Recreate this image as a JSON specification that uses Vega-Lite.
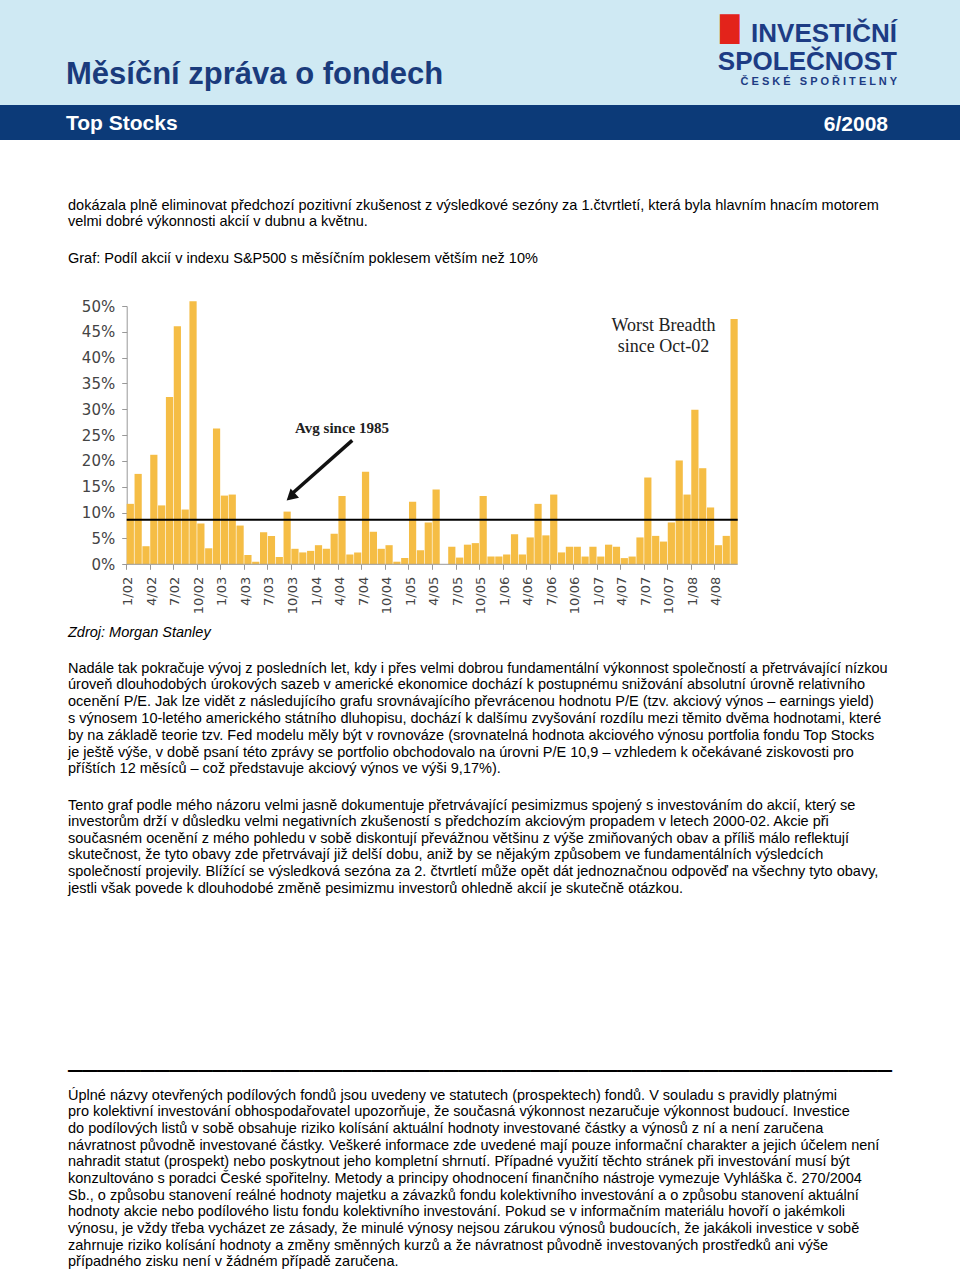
{
  "$schema": "https://vega.github.io/schema/vega-lite/v6.json",
  "padding": 0,
  "background": "white",
  "config": {"view": {"stroke": null}, "font": "Liberation Sans", "axisY": {"labelOverlap": false, "tickCount": 11}},
  "datasets": {
    "breadth": [
      {"month": "1/02", "pct": 11.7}, {"month": "2/02", "pct": 17.5}, {"month": "3/02", "pct": 3.5}, {"month": "4/02", "pct": 21.2},
      {"month": "5/02", "pct": 11.4}, {"month": "6/02", "pct": 32.4}, {"month": "7/02", "pct": 46.1}, {"month": "8/02", "pct": 10.6},
      {"month": "9/02", "pct": 50.9}, {"month": "10/02", "pct": 7.9}, {"month": "11/02", "pct": 3.1}, {"month": "12/02", "pct": 26.3},
      {"month": "1/03", "pct": 13.3}, {"month": "2/03", "pct": 13.5}, {"month": "3/03", "pct": 7.5}, {"month": "4/03", "pct": 1.8},
      {"month": "5/03", "pct": 0.5}, {"month": "6/03", "pct": 6.2}, {"month": "7/03", "pct": 5.5}, {"month": "8/03", "pct": 1.4},
      {"month": "9/03", "pct": 10.2}, {"month": "10/03", "pct": 3.0}, {"month": "11/03", "pct": 2.3}, {"month": "12/03", "pct": 2.6},
      {"month": "1/04", "pct": 3.7}, {"month": "2/04", "pct": 3.0}, {"month": "3/04", "pct": 5.9}, {"month": "4/04", "pct": 13.2},
      {"month": "5/04", "pct": 1.9}, {"month": "6/04", "pct": 2.3}, {"month": "7/04", "pct": 17.9}, {"month": "8/04", "pct": 6.3},
      {"month": "9/04", "pct": 3.0}, {"month": "10/04", "pct": 3.7}, {"month": "11/04", "pct": 0.5}, {"month": "12/04", "pct": 1.2},
      {"month": "1/05", "pct": 12.1}, {"month": "2/05", "pct": 2.7}, {"month": "3/05", "pct": 8.1}, {"month": "4/05", "pct": 14.5},
      {"month": "5/05", "pct": 0.0}, {"month": "6/05", "pct": 3.4}, {"month": "7/05", "pct": 1.3}, {"month": "8/05", "pct": 3.8},
      {"month": "9/05", "pct": 4.1}, {"month": "10/05", "pct": 13.2}, {"month": "11/05", "pct": 1.5}, {"month": "12/05", "pct": 1.5},
      {"month": "1/06", "pct": 1.9}, {"month": "2/06", "pct": 5.8}, {"month": "3/06", "pct": 1.9}, {"month": "4/06", "pct": 5.2},
      {"month": "5/06", "pct": 11.7}, {"month": "6/06", "pct": 5.6}, {"month": "7/06", "pct": 13.5}, {"month": "8/06", "pct": 2.3},
      {"month": "9/06", "pct": 3.4}, {"month": "10/06", "pct": 3.4}, {"month": "11/06", "pct": 1.5}, {"month": "12/06", "pct": 3.4},
      {"month": "1/07", "pct": 1.5}, {"month": "2/07", "pct": 3.8}, {"month": "3/07", "pct": 3.4}, {"month": "4/07", "pct": 1.2},
      {"month": "5/07", "pct": 1.5}, {"month": "6/07", "pct": 5.2}, {"month": "7/07", "pct": 16.8}, {"month": "8/07", "pct": 5.5},
      {"month": "9/07", "pct": 4.4}, {"month": "10/07", "pct": 8.1}, {"month": "11/07", "pct": 20.1}, {"month": "12/07", "pct": 13.5},
      {"month": "1/08", "pct": 29.9}, {"month": "2/08", "pct": 18.6}, {"month": "3/08", "pct": 11.0}, {"month": "4/08", "pct": 3.7},
      {"month": "5/08", "pct": 5.5}, {"month": "6/08", "pct": 47.5}
    ]
  },
  "vconcat": [
    {
      "width": 960, "height": 105,
      "view": {"fill": "#cfe9f3", "stroke": null},
      "data": {"values": []}, "mark": "point",
      "title": {"text": "Měsíční zpráva o fondech", "orient": "bottom", "anchor": "start", "frame": "group", "dx": 66, "offset": -45, "baseline": "top",
        "font": "Liberation Sans", "fontSize": 31, "fontWeight": "bold", "color": "#1a3b7c"}
    },
    {
      "width": 960, "height": 35,
      "view": {"fill": "#0c3a78", "stroke": null},
      "data": {"values": []}, "mark": "point",
      "title": {"text": "Top Stocks", "orient": "bottom", "anchor": "start", "frame": "group", "dx": 66, "offset": -27, "baseline": "top",
        "font": "Liberation Sans", "fontSize": 21, "fontWeight": "bold", "color": "#ffffff"}
    },
    {
      "width": 960, "height": 165.7,
      "data": {"values": []}, "mark": "point",
      "title": {"text": ["dokázala plně eliminovat předchozí pozitivní zkušenost z výsledkové sezóny za 1.čtvrtletí, která byla hlavním hnacím motorem", "velmi dobré výkonnosti akcií v dubnu a květnu."],
        "orient": "bottom", "anchor": "start", "frame": "group", "dx": 68, "offset": -107.2, "baseline": "top",
        "font": "Liberation Sans", "fontSize": 14.5, "fontWeight": "normal", "color": "#000000", "lineHeight": 16.8}
    },
    {
      "width": 737.7, "height": 258.3,
      "data": {"name": "breadth"},
      "layer": [
        {
          "mark": {"type": "bar", "color": "#f5bd45"},
          "encoding": {
            "x": {"field": "month", "type": "nominal", "sort": null,
              "scale": {"domain": ["1/02","2/02","3/02","4/02","5/02","6/02","7/02","8/02","9/02","10/02","11/02","12/02",
                "1/03","2/03","3/03","4/03","5/03","6/03","7/03","8/03","9/03","10/03","11/03","12/03",
                "1/04","2/04","3/04","4/04","5/04","6/04","7/04","8/04","9/04","10/04","11/04","12/04",
                "1/05","2/05","3/05","4/05","5/05","6/05","7/05","8/05","9/05","10/05","11/05","12/05",
                "1/06","2/06","3/06","4/06","5/06","6/06","7/06","8/06","9/06","10/06","11/06","12/06",
                "1/07","2/07","3/07","4/07","5/07","6/07","7/07","8/07","9/07","10/07","11/07","12/07",
                "1/08","2/08","3/08","4/08","5/08","6/08"],
                "range": [126.7, 737.7], "paddingInner": 0.08, "paddingOuter": 0},
              "axis": {"values": ["1/02","4/02","7/02","10/02","1/03","4/03","7/03","10/03","1/04","4/04","7/04","10/04","1/05","4/05","7/05","10/05","1/06","4/06","7/06","10/06","1/07","4/07","7/07","10/07","1/08","4/08"],
                "bandPosition": 0, "labelAngle": -90, "domain": false, "tickColor": "#999999", "tickSize": 5, "labelOverlap": false,
                "labelFont": "DejaVu Sans", "labelFontSize": 13, "labelColor": "#444444", "labelPadding": 7, "labelOffset": -2, "title": null}
            },
            "y": {"field": "pct", "type": "quantitative",
              "scale": {"domain": [0, 50], "nice": false},
              "axis": {"offset": -126.7, "values": [0,5,10,15,20,25,30,35,40,45,50], "tickCount": 11, "labelExpr": "datum.value + '%'", "grid": false, "labelOverlap": false,
                "domainColor": "#999999", "tickColor": "#999999", "tickSize": 5, "labelFont": "DejaVu Sans", "labelFontSize": 15,
                "labelColor": "#444444", "labelPadding": 7, "title": null}
            }
          }
        },
        {
          "data": {"values": [{}]},
          "mark": {"type": "rule", "color": "#999999", "strokeWidth": 1},
          "encoding": {"x": {"datum": "1/02", "bandPosition": 0}, "x2": {"datum": "6/08", "bandPosition": 1}, "y": {"datum": 0}}
        },
        {
          "data": {"values": [{}]},
          "mark": {"type": "rule", "color": "#000000", "strokeWidth": 2},
          "encoding": {"x": {"datum": "1/02", "bandPosition": 0}, "x2": {"datum": "6/08", "bandPosition": 1}, "y": {"datum": 8.6}}
        },
        {
          "data": {"values": [{}]},
          "mark": {"type": "rule", "color": "#111111", "strokeWidth": 3.5},
          "encoding": {"x": {"datum": "5/04", "bandPosition": 0.83}, "y": {"datum": 24.0}, "x2": {"datum": "10/03", "bandPosition": 0.28}, "y2": {"datum": 13.9}}
        },
        {
          "data": {"values": [{}]},
          "mark": {"type": "point", "shape": "triangle", "filled": true, "color": "#111111", "size": 160, "angle": 228, "opacity": 1},
          "encoding": {"x": {"datum": "10/03", "bandPosition": 0.1}, "y": {"datum": 13.3}}
        },
        {
          "data": {"values": [{"label": "Avg since 1985"}]},
          "mark": {"type": "text", "font": "Liberation Serif", "fontSize": 15, "fontWeight": "bold", "baseline": "alphabetic", "align": "center", "color": "#222222"},
          "encoding": {"x": {"datum": "4/04"}, "y": {"datum": 25.4}, "text": {"field": "label"}}
        },
        {
          "data": {"values": [{"label": "Worst Breadth"}]},
          "mark": {"type": "text", "font": "Liberation Serif", "fontSize": 18, "baseline": "alphabetic", "align": "center", "color": "#222222"},
          "encoding": {"x": {"datum": "9/07"}, "y": {"datum": 45.1}, "text": {"field": "label"}}
        },
        {
          "data": {"values": [{"label": "since Oct-02"}]},
          "mark": {"type": "text", "font": "Liberation Serif", "fontSize": 18, "baseline": "alphabetic", "align": "center", "color": "#222222"},
          "encoding": {"x": {"datum": "9/07"}, "y": {"datum": 41.0}, "text": {"field": "label"}}
        }
      ]
    },
    {
      "width": 960, "height": 1, "data": {"values": []}, "mark": "point",
      "title": {"text": "6/2008", "orient": "bottom", "anchor": "end", "frame": "group", "dx": -72, "offset": -452, "baseline": "top",
        "font": "Liberation Sans", "fontSize": 21, "fontWeight": "bold", "color": "#ffffff"}
    },
    {
      "width": 960, "height": 1, "data": {"values": []}, "mark": "point",
      "title": {"text": ["INVESTIČNÍ", "SPOLEČNOST"], "orient": "bottom", "anchor": "end", "frame": "group", "dx": -63, "offset": -546, "baseline": "top",
        "font": "Liberation Sans", "fontSize": 26, "fontWeight": "bold", "color": "#1d3c84", "lineHeight": 28}
    },
    {
      "width": 960, "height": 1, "data": {"values": []}, "mark": "point",
      "title": {"text": "Č E S K É \u00a0\u00a0S P O Ř I T E L N Y", "orient": "bottom", "anchor": "end", "frame": "group", "dx": -63, "offset": -492, "baseline": "top",
        "font": "Liberation Sans", "fontSize": 11, "fontWeight": "bold", "color": "#1d3c84"}
    },
    {
      "width": 960, "height": 1, "data": {"values": []}, "mark": "point",
      "title": {"text": "█", "orient": "bottom", "anchor": "start", "frame": "group", "dx": 720, "offset": -551, "baseline": "top",
        "font": "DejaVu Sans", "fontSize": 25, "fontWeight": "normal", "color": "#e3231b"}
    },
    {
      "width": 960, "height": 1, "data": {"values": []}, "mark": "point",
      "title": {"text": "Graf: Podíl akcií v indexu S&P500 s měsíčním poklesem větším než 10%", "orient": "bottom", "anchor": "start", "frame": "group", "dx": 68, "offset": -318, "baseline": "top",
        "font": "Liberation Sans", "fontSize": 14.5, "fontWeight": "normal", "color": "#000000"}
    },
    {
      "width": 960, "height": 1, "data": {"values": []}, "mark": "point",
      "title": {"text": "Zdroj: Morgan Stanley", "orient": "bottom", "anchor": "start", "frame": "group", "dx": 68, "offset": 54.5, "baseline": "top",
        "font": "Liberation Sans", "fontSize": 14.5, "fontWeight": "normal", "fontStyle": "italic", "color": "#000000"}
    },
    {
      "width": 960, "height": 1, "data": {"values": []}, "mark": "point",
      "title": {"text": [
        "Nadále tak pokračuje vývoj z posledních let, kdy i přes velmi dobrou fundamentální výkonnost společností a přetrvávající nízkou",
        "úroveň dlouhodobých úrokových sazeb v americké ekonomice dochází k postupnému snižování absolutní úrovně relativního",
        "ocenění P/E. Jak lze vidět z následujícího grafu srovnávajícího převrácenou hodnotu P/E (tzv. akciový výnos – earnings yield)",
        "s výnosem 10-letého amerického státního dluhopisu, dochází k dalšímu zvyšování rozdílu mezi těmito dvěma hodnotami, které",
        "by na základě teorie tzv. Fed modelu měly být v rovnováze (srovnatelná hodnota akciového výnosu portfolia fondu Top Stocks",
        "je ještě výše, v době psaní této zprávy se portfolio obchodovalo na úrovni P/E 10,9 – vzhledem k očekávané ziskovosti pro",
        "příštích 12 měsíců – což představuje akciový výnos ve výši 9,17%)."],
        "orient": "bottom", "anchor": "start", "frame": "group", "dx": 68, "offset": 89.5, "baseline": "top",
        "font": "Liberation Sans", "fontSize": 14.5, "fontWeight": "normal", "color": "#000000", "lineHeight": 16.8}
    },
    {
      "width": 960, "height": 1, "data": {"values": []}, "mark": "point",
      "title": {"text": [
        "Tento graf podle mého názoru velmi jasně dokumentuje přetrvávající pesimizmus spojený s investováním do akcií, který se",
        "investorům drží v důsledku velmi negativních zkušeností s předchozím akciovým propadem v letech 2000-02. Akcie při",
        "současném ocenění z mého pohledu v sobě diskontují převážnou většinu z výše zmiňovaných obav a příliš málo reflektují",
        "skutečnost, že tyto obavy zde přetrvávají již delší dobu, aniž by se nějakým způsobem ve fundamentálních výsledcích",
        "společností projevily. Blížící se výsledková sezóna za 2. čtvrtletí může opět dát jednoznačnou odpověď na všechny tyto obavy,",
        "jestli však povede k dlouhodobé změně pesimizmu investorů ohledně akcií je skutečně otázkou."],
        "orient": "bottom", "anchor": "start", "frame": "group", "dx": 68, "offset": 225.5, "baseline": "top",
        "font": "Liberation Sans", "fontSize": 14.5, "fontWeight": "normal", "color": "#000000", "lineHeight": 16.6}
    },
    {
      "width": 960, "height": 1, "data": {"values": []}, "mark": "point",
      "title": {"text": "─────────────────────────────────────────────────────────", "orient": "bottom", "anchor": "start", "frame": "group", "dx": 68, "offset": 486.3, "baseline": "top",
        "font": "DejaVu Sans", "fontSize": 24, "fontWeight": "normal", "color": "#000000"}
    },
    {
      "width": 960, "height": 1, "data": {"values": []}, "mark": "point",
      "title": {"text": [
        "Úplné názvy otevřených podílových fondů jsou uvedeny ve statutech (prospektech) fondů. V souladu s pravidly platnými",
        "pro kolektivní investování obhospodařovatel upozorňuje, že současná výkonnost nezaručuje výkonnost budoucí. Investice",
        "do podílových listů v sobě obsahuje riziko kolísání aktuální hodnoty investované částky a výnosů z ní a není zaručena",
        "návratnost původně investované částky. Veškeré informace zde uvedené mají pouze informační charakter a jejich účelem není",
        "nahradit statut (prospekt) nebo poskytnout jeho kompletní shrnutí. Případné využití těchto stránek při investování musí být",
        "konzultováno s poradci České spořitelny. Metody a principy ohodnocení finančního nástroje vymezuje Vyhláška č. 270/2004",
        "Sb., o způsobu stanovení reálné hodnoty majetku a závazků fondu kolektivního investování a o způsobu stanovení aktuální",
        "hodnoty akcie nebo podílového listu fondu kolektivního investování. Pokud se v informačním materiálu hovoří o jakémkoli",
        "výnosu, je vždy třeba vycházet ze zásady, že minulé výnosy nejsou zárukou výnosů budoucích, že jakákoli investice v sobě",
        "zahrnuje riziko kolísání hodnoty a změny směnných kurzů a že návratnost původně investovaných prostředků ani výše",
        "případného zisku není v žádném případě zaručena."],
        "orient": "bottom", "anchor": "start", "frame": "group", "dx": 68, "offset": 513.5, "baseline": "top",
        "font": "Liberation Sans", "fontSize": 14.5, "fontWeight": "normal", "color": "#000000", "lineHeight": 16.7}
    }
  ],
  "spacing": 0,
  "bounds": "flush"
}
